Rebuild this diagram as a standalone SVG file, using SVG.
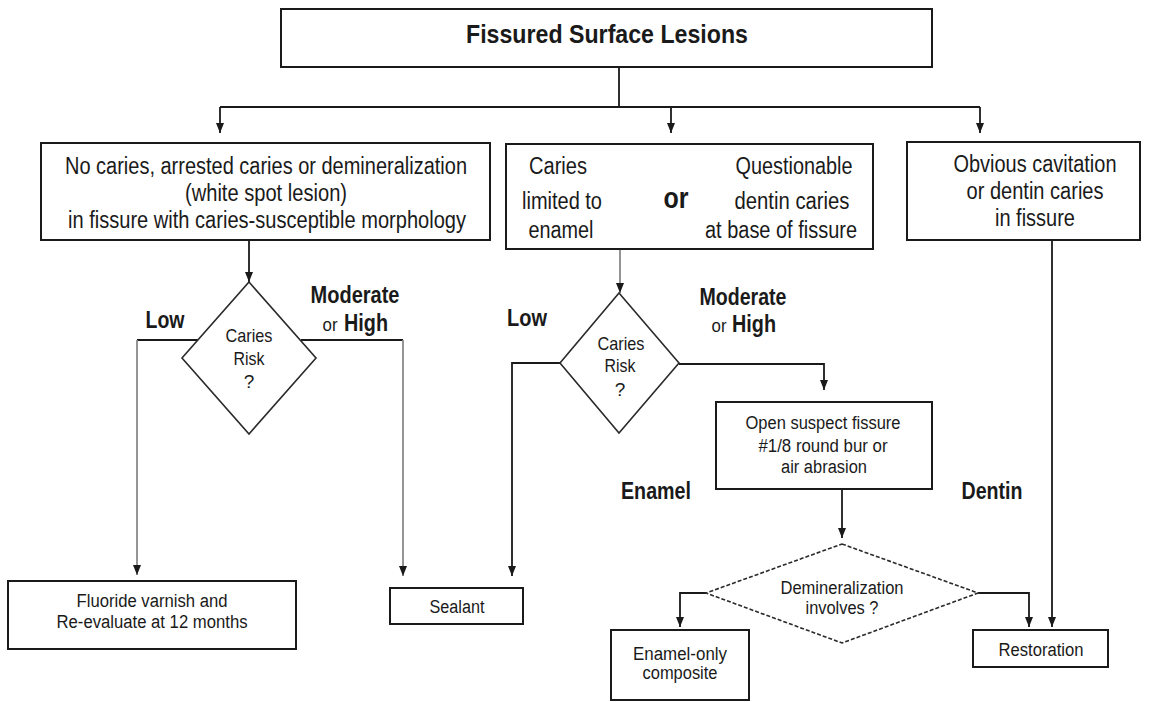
<svg xmlns="http://www.w3.org/2000/svg" width="1152" height="702" viewBox="0 0 1152 702">
<style>
.box{fill:#fff;stroke:#1a1a1a;stroke-width:2}
.dia{fill:#fff;stroke:#2a2a2a;stroke-width:1.6}
.dash{stroke-dasharray:4 2}
.ln{fill:none;stroke:#1a1a1a;stroke-width:1.8}
.gr{stroke:#8a8a8a}
.t{font-family:"Liberation Sans Narrow","Liberation Sans",Arial,sans-serif;fill:#1a1a1a;text-anchor:middle}
.b{font-weight:bold}
</style>
<defs>
<marker id="ah" markerUnits="userSpaceOnUse" markerWidth="10" markerHeight="8" refX="10" refY="4" orient="auto">
<path d="M0,0 L10,4 L0,8 z" fill="#1a1a1a"/>
</marker>
</defs>
<rect width="1152" height="702" fill="#fff"/>

<g id="connectors">
<path class="ln" d="M619,67 V107 M220,107 H980"/>
<path class="ln" d="M220,107 V133" marker-end="url(#ah)"/>
<path class="ln" d="M671,107 V133" marker-end="url(#ah)"/>
<path class="ln" d="M980,107 V133" marker-end="url(#ah)"/>
<path class="ln" d="M249,240 V282" marker-end="url(#ah)"/>
<path class="ln" d="M198,340 H137"/>
<path class="ln gr" d="M137,340 V575" marker-end="url(#ah)"/>
<path class="ln" d="M301,340 H403"/>
<path class="ln gr" d="M403,340 V576" marker-end="url(#ah)"/>
<path class="ln gr" d="M620,249 V293" marker-end="url(#ah)"/>
<path class="ln" d="M560,363 H512 V576" marker-end="url(#ah)"/>
<path class="ln" d="M679,364 H824 V390" marker-end="url(#ah)"/>
<path class="ln" d="M842,489 V538" marker-end="url(#ah)"/>
<path class="ln" d="M706,593 H680 V627" marker-end="url(#ah)"/>
<path class="ln" d="M978,593 H1029 V627" marker-end="url(#ah)"/>
<path class="ln" d="M1052,240 V627" marker-end="url(#ah)"/>
</g>

<g id="title">
<rect class="box" x="281" y="9" width="651" height="58"/>
<text class="t b" x="607" y="43" font-size="25" textLength="282" lengthAdjust="spacingAndGlyphs">Fissured Surface Lesions</text>
</g>

<g id="no-caries">
<rect class="box" x="41" y="143" width="449" height="97"/>
<text class="t" x="266" y="174" font-size="23" textLength="402" lengthAdjust="spacingAndGlyphs">No caries, arrested caries or demineralization</text>
<text class="t" x="266" y="201" font-size="23" textLength="162" lengthAdjust="spacingAndGlyphs">(white spot lesion)</text>
<text class="t" x="267" y="228" font-size="23" textLength="398" lengthAdjust="spacingAndGlyphs">in fissure with caries-susceptible morphology</text>
</g>

<g id="enamel-or-dentin">
<rect class="box" x="506" y="144" width="367" height="105"/>
<text class="t" x="558" y="174" font-size="23" textLength="58" lengthAdjust="spacingAndGlyphs">Caries</text>
<text class="t" x="562" y="209" font-size="23" textLength="80" lengthAdjust="spacingAndGlyphs">limited to</text>
<text class="t" x="561" y="238" font-size="23" textLength="65" lengthAdjust="spacingAndGlyphs">enamel</text>
<text class="t b" x="676" y="208" font-size="30" textLength="25" lengthAdjust="spacingAndGlyphs">or</text>
<text class="t" x="794" y="174" font-size="23" textLength="117" lengthAdjust="spacingAndGlyphs">Questionable</text>
<text class="t" x="792" y="209" font-size="23" textLength="115" lengthAdjust="spacingAndGlyphs">dentin caries</text>
<text class="t" x="781" y="238" font-size="23" textLength="152" lengthAdjust="spacingAndGlyphs">at base of fissure</text>
</g>

<g id="obvious">
<rect class="box" x="907" y="142" width="233" height="98"/>
<text class="t" x="1035" y="172" font-size="23" textLength="163" lengthAdjust="spacingAndGlyphs">Obvious cavitation</text>
<text class="t" x="1035" y="199" font-size="23" textLength="137" lengthAdjust="spacingAndGlyphs">or dentin caries</text>
<text class="t" x="1035" y="226" font-size="23" textLength="80" lengthAdjust="spacingAndGlyphs">in fissure</text>
</g>

<g id="risk1">
<polygon class="dia" points="249,282 316,358 249,434 182,358"/>
<text class="t" x="249" y="342" font-size="19" textLength="47" lengthAdjust="spacingAndGlyphs">Caries</text>
<text class="t" x="249" y="365" font-size="19" textLength="31" lengthAdjust="spacingAndGlyphs">Risk</text>
<text class="t" x="249" y="388" font-size="19">?</text>
</g>

<g id="risk1-labels">
<text class="t b" x="165" y="328" font-size="23" textLength="39" lengthAdjust="spacingAndGlyphs">Low</text>
<text class="t b" x="355" y="303" font-size="23" textLength="89" lengthAdjust="spacingAndGlyphs">Moderate</text>
<text class="t" x="330" y="331" font-size="18" textLength="15" lengthAdjust="spacingAndGlyphs">or</text>
<text class="t b" x="366" y="331" font-size="23" textLength="44" lengthAdjust="spacingAndGlyphs">High</text>
</g>

<g id="risk2">
<polygon class="dia" points="619,293 679,363 619,433 560,363"/>
<text class="t" x="621" y="350" font-size="19" textLength="47" lengthAdjust="spacingAndGlyphs">Caries</text>
<text class="t" x="620" y="372" font-size="19" textLength="31" lengthAdjust="spacingAndGlyphs">Risk</text>
<text class="t" x="620" y="396" font-size="19">?</text>
</g>

<g id="risk2-labels">
<text class="t b" x="527" y="326" font-size="23" textLength="40" lengthAdjust="spacingAndGlyphs">Low</text>
<text class="t b" x="743" y="305" font-size="23" textLength="87" lengthAdjust="spacingAndGlyphs">Moderate</text>
<text class="t" x="719" y="332" font-size="18" textLength="15" lengthAdjust="spacingAndGlyphs">or</text>
<text class="t b" x="754" y="332" font-size="23" textLength="44" lengthAdjust="spacingAndGlyphs">High</text>
</g>

<g id="open-fissure">
<rect class="box" x="716" y="402" width="216" height="87"/>
<text class="t" x="823" y="429" font-size="18" textLength="155" lengthAdjust="spacingAndGlyphs">Open suspect fissure</text>
<text class="t" x="823" y="452" font-size="18" textLength="129" lengthAdjust="spacingAndGlyphs">#1/8 round bur or</text>
<text class="t" x="824" y="473" font-size="18" textLength="86" lengthAdjust="spacingAndGlyphs">air abrasion</text>
</g>

<g id="branch-labels">
<text class="t b" x="656" y="499" font-size="23" textLength="70" lengthAdjust="spacingAndGlyphs">Enamel</text>
<text class="t b" x="992" y="499" font-size="23" textLength="61" lengthAdjust="spacingAndGlyphs">Dentin</text>
</g>

<g id="demin">
<polygon class="dia dash" points="842,544 978,593 842,643 706,593"/>
<text class="t" x="842" y="594" font-size="18" textLength="123" lengthAdjust="spacingAndGlyphs">Demineralization</text>
<text class="t" x="842" y="614" font-size="18" textLength="73" lengthAdjust="spacingAndGlyphs">involves ?</text>
</g>

<g id="fluoride">
<rect class="box" x="8" y="581" width="288" height="68"/>
<text class="t" x="152" y="607" font-size="18" textLength="151" lengthAdjust="spacingAndGlyphs">Fluoride varnish and</text>
<text class="t" x="152" y="628" font-size="18" textLength="191" lengthAdjust="spacingAndGlyphs">Re-evaluate at 12 months</text>
</g>

<g id="sealant">
<rect class="box" x="390" y="588" width="133" height="36"/>
<text class="t" x="457" y="613" font-size="18" textLength="55" lengthAdjust="spacingAndGlyphs">Sealant</text>
</g>

<g id="enamel-composite">
<rect class="box" x="611" y="630" width="138" height="70"/>
<text class="t" x="680" y="660" font-size="18" textLength="94" lengthAdjust="spacingAndGlyphs">Enamel-only</text>
<text class="t" x="680" y="679" font-size="18" textLength="75" lengthAdjust="spacingAndGlyphs">composite</text>
</g>

<g id="restoration">
<rect class="box" x="973" y="630" width="135" height="37"/>
<text class="t" x="1041" y="656" font-size="18" textLength="85" lengthAdjust="spacingAndGlyphs">Restoration</text>
</g>
</svg>
